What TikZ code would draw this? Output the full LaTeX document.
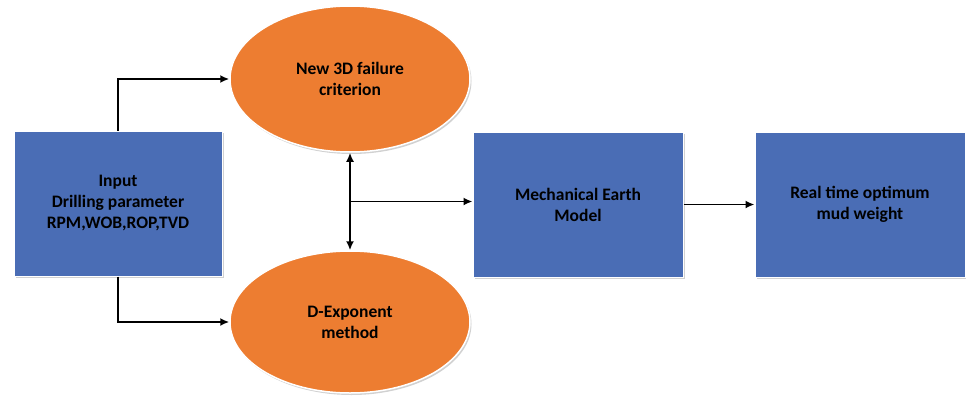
\documentclass[tikz,border=0pt]{standalone}
\usepackage{fontspec}
\setmainfont{Carlito}
\usetikzlibrary{arrows.meta, positioning, shapes.geometric, calc, shadows}
\definecolor{boxblue}{HTML}{4A6DB5}
\definecolor{ellorange}{HTML}{ED7D31}

\begin{document}
\begin{tikzpicture}[x=1pt, y=-1pt, >={Latex[length=9pt, width=8pt]},
    block/.style={rectangle, fill=boxblue, draw=white, line width=1pt, align=center,
      minimum width=208pt, minimum height=145pt,
      drop shadow={shadow xshift=1.5pt, shadow yshift=-2pt, fill=black!30, opacity=0.6},
      font=\bfseries\fontsize{17.5}{21}\selectfont},
    oval/.style={ellipse, fill=ellorange, draw=white, line width=1.5pt, align=center,
      minimum width=240pt, minimum height=146pt, inner sep=0pt,
      drop shadow={shadow xshift=1.5pt, shadow yshift=-2pt, fill=black!30, opacity=0.6},
      font=\bfseries\fontsize{17.5}{21}\selectfont},
    link/.style={->, line width=1.8pt}]
      \useasboundingbox (0,0) rectangle (966,396);

      % Nodes
      \node[block] (input) at (118,203.5) {Input\\Drilling parameter\\RPM,WOB,ROP,TVD};
      \node[oval] (fail) at (350,79) {New 3D failure\\criterion};
      \node[oval, minimum height=142pt] (dexp) at (350,322) {D-Exponent\\method};
      \node[block, minimum width=210pt] (mem) at (578,204.5) {Mechanical Earth\\Model};
      \node[block, minimum width=210pt] (mud) at (860,204.5) {Real time optimum\\mud weight};
      \coordinate (hub) at ($(fail.south)!0.5!(dexp.north)$);

      % Arrows
      \draw[link] (input.north) |- (fail.west);
      \draw[link] (input.south) |- (dexp.west);
      \draw[link, <->] (fail.south) -- (dexp.north);
      \draw[link] (hub) -- (mem.west |- hub);
      \draw[link] (mem.east) -- (mud.west);
\end{tikzpicture}
\end{document}
